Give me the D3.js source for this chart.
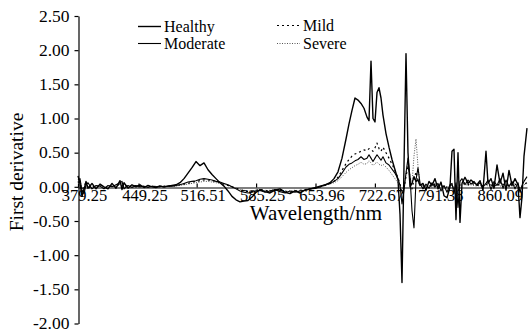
<!DOCTYPE html>
<html>
<head>
<meta charset="utf-8">
<script src="https://cdn.jsdelivr.net/npm/d3@7"></script>
<style>
  body { margin: 0; background: #fff; }
  svg { display: block; }
  svg text { font-family: "Liberation Serif", "Times New Roman", serif; fill: #000; }
</style>
</head>
<body>
<svg id="chart"></svg>
<script>
// wavelengths (nm) of the sampled points
var wavelengths = [
  379.25, 381.56, 383.88, 386.19, 388.50, 390.82, 395.44, 400.07, 404.70, 409.32,
  413.95, 418.58, 423.20, 427.83, 430.14, 432.46, 437.09, 441.71, 446.34, 450.97,
  455.59, 460.22, 464.85, 469.47, 474.10, 478.73, 483.35,
  487.98, 492.61, 497.23, 501.86, 506.49, 511.11, 515.74, 520.37, 524.99, 529.62,
  534.25, 538.87, 543.50, 548.13, 552.76, 557.38, 562.01, 566.64, 571.26, 575.89,
  580.52, 585.14, 589.77, 595.55, 601.34, 607.12, 612.91, 618.69, 624.47, 630.26,
  636.04, 641.82, 647.61, 653.39, 659.17, 664.96, 670.74,
  675.38, 680.00, 684.63, 689.25, 692.72, 696.19, 699.66, 703.13, 706.60, 710.07,
  713.54, 715.86, 718.17, 720.48, 722.79, 725.11, 727.42, 729.73, 732.04, 735.51,
  738.98, 742.45, 745.92, 749.39, 751.71, 754.02, 756.33, 758.65, 760.96, 763.27,
  765.59, 767.90, 770.21, 772.53, 774.84,
  778.31, 781.78, 785.25, 788.72, 792.19, 795.66, 799.13, 802.60, 806.07, 809.54,
  811.86, 814.17, 816.48, 818.80, 821.11, 823.42, 826.89, 830.36, 833.83, 837.30,
  840.77, 844.24, 847.71, 851.18, 853.50, 856.97, 860.44, 863.91, 867.38, 870.85,
  874.32, 877.79, 881.26, 884.73, 888.20, 890.51, 892.82, 895.14, 898.61
];

var healthy = [
  0.16, 0.05, -0.14, -0.04, 0.08, -0.02, 0.05, -0.03, 0.04, 0.00,
  -0.03, 0.05, -0.02, 0.09, -0.04, 0.06, -0.02, 0.03, 0.00, 0.03,
  -0.01, 0.02, 0.00, -0.01, 0.01, 0.00, 0.01,
  0.02, 0.03, 0.06, 0.12, 0.20, 0.28, 0.37, 0.31, 0.35, 0.25,
  0.18, 0.12, 0.06, 0.01, -0.06, -0.14, -0.19, -0.22, -0.21, -0.20,
  -0.15, -0.08, -0.04, -0.07, -0.09, -0.05, -0.03, -0.08, -0.10, -0.06,
  -0.09, -0.05, -0.03, -0.02, 0.00, 0.03, 0.06,
  0.12, 0.22, 0.42, 0.70, 0.92, 1.12, 1.30, 1.27, 1.22, 1.15,
  1.02, 0.97, 1.84, 1.00, 0.95, 1.38, 1.45, 1.30, 1.05, 0.78,
  0.58, 0.40, 0.25, 0.10, -0.40, -1.40, 0.30, 1.95, 0.50, 0.00,
  0.05, 0.15, 0.08, 0.10, 0.02,
  0.05, -0.05, 0.08, 0.02, 0.12, -0.03, 0.07, -0.13, -0.16, 0.00,
  0.52, 0.55, -0.48, 0.50, -0.52, 0.05, 0.14, 0.05, 0.10, 0.06,
  0.03, 0.09, -0.05, 0.52, 0.05, 0.12, -0.02, 0.32, 0.05, 0.20,
  -0.05, 0.24, 0.02, 0.12, 0.03, -0.45, -0.15, 0.45, 0.86
];

var moderate = [
  0.10, 0.12, -0.06, -0.10, 0.03, 0.06, -0.03, 0.02, 0.01, -0.03,
  0.02, 0.00, 0.03, 0.06, 0.08, -0.03, 0.02, -0.01, 0.02, 0.00,
  0.01, -0.01, 0.01, 0.00, 0.01, 0.00, 0.01,
  0.01, 0.02, 0.03, 0.05, 0.07, 0.08, 0.09, 0.11, 0.12, 0.11,
  0.10, 0.08, 0.07, 0.05, 0.03, 0.00, -0.03, -0.06, -0.08, -0.09,
  -0.08, -0.06, -0.05, -0.08, -0.06, -0.04, -0.07, -0.09, -0.06, -0.08,
  -0.06, -0.05, -0.03, -0.01, 0.01, 0.03, 0.05,
  0.08, 0.12, 0.20, 0.29, 0.33, 0.35, 0.38, 0.40, 0.44, 0.40,
  0.42, 0.47, 0.42, 0.37, 0.42, 0.47, 0.43, 0.39, 0.44, 0.35,
  0.32, 0.26, 0.20, 0.12, 0.02, -0.25, -0.05, 0.20, 0.42, 0.15,
  -0.35, -0.60, 0.10, 0.28, 0.05,
  -0.03, 0.04, -0.02, 0.06, 0.00, 0.05, -0.06, 0.02, -0.08, 0.03,
  0.05, -0.10, 0.06, -0.30, 0.08, 0.12, 0.03, 0.10, 0.04, 0.08,
  0.02, 0.06, 0.00, 0.05, 0.10, -0.04, 0.08, 0.02, 0.12, -0.02,
  0.10, 0.00, 0.08, -0.03, 0.06, -0.08, 0.02, 0.08, 0.15
];

var mild = [
  0.08, 0.04, -0.08, 0.02, 0.06, -0.03, 0.02, -0.02, 0.03, 0.00,
  -0.02, 0.03, 0.00, 0.05, 0.02, 0.04, -0.01, 0.02, 0.01, 0.02,
  0.00, 0.01, 0.00, 0.01, 0.00, 0.01, 0.01,
  0.01, 0.02, 0.03, 0.04, 0.05, 0.07, 0.08, 0.09, 0.10, 0.10,
  0.09, 0.08, 0.06, 0.04, 0.02, 0.00, -0.02, -0.04, -0.06, -0.07,
  -0.07, -0.05, -0.04, -0.05, -0.07, -0.05, -0.04, -0.06, -0.08, -0.06,
  -0.05, -0.04, -0.03, -0.02, 0.00, 0.02, 0.05,
  0.08, 0.14, 0.24, 0.34, 0.40, 0.45, 0.48, 0.50, 0.52, 0.54,
  0.53, 0.56, 0.55, 0.52, 0.57, 0.64, 0.56, 0.52, 0.58, 0.50,
  0.42, 0.33, 0.24, 0.13, 0.04, -0.10, -0.02, 0.15, 0.30, 0.15,
  -0.03, 0.10, 0.22, 0.10, 0.02,
  0.02, -0.02, 0.03, 0.00, 0.04, 0.01, 0.03, -0.02, 0.00, 0.02,
  0.03, -0.03, 0.02, -0.05, 0.03, 0.04, 0.06, 0.03, 0.05, 0.04,
  0.02, 0.03, 0.01, 0.04, 0.02, 0.03, 0.00, 0.05, 0.02, 0.04,
  0.01, 0.05, 0.02, 0.04, 0.01, -0.03, 0.00, 0.04, 0.06
];

var severe = [
  0.06, 0.09, -0.03, -0.05, 0.04, 0.00, 0.03, -0.01, 0.02, -0.02,
  0.01, 0.02, -0.01, 0.04, 0.05, 0.00, 0.01, 0.00, 0.02, 0.01,
  -0.01, 0.01, 0.00, 0.00, 0.01, 0.00, 0.01,
  0.01, 0.01, 0.02, 0.03, 0.04, 0.05, 0.06, 0.07, 0.08, 0.08,
  0.07, 0.06, 0.05, 0.04, 0.02, 0.00, -0.02, -0.04, -0.05, -0.06,
  -0.06, -0.05, -0.04, -0.06, -0.05, -0.04, -0.05, -0.07, -0.06, -0.05,
  -0.06, -0.04, -0.03, -0.02, 0.00, 0.02, 0.04,
  0.06, 0.09, 0.15, 0.21, 0.25, 0.28, 0.31, 0.33, 0.36, 0.33,
  0.34, 0.38, 0.35, 0.31, 0.34, 0.36, 0.33, 0.31, 0.33, 0.29,
  0.24, 0.18, 0.12, 0.06, 0.00, -0.08, 0.02, 0.20, 0.35, 0.10,
  0.05, 0.45, 0.70, 0.30, 0.05,
  0.03, 0.00, 0.02, -0.01, 0.03, 0.00, 0.02, 0.00, -0.02, 0.01,
  0.02, 0.00, -0.02, 0.01, 0.02, 0.03, 0.04, 0.02, 0.03, 0.02,
  0.01, 0.02, 0.00, 0.03, 0.01, 0.02, 0.00, 0.03, 0.01, 0.02,
  0.00, 0.03, 0.01, 0.02, 0.00, -0.02, 0.01, 0.03, 0.05
];

// axis ticks
var xTickValues = [379.25, 449.25, 516.51, 585.25, 653.96, 722.67, 791.38, 860.09];
var yTickValues = [-2.00, -1.50, -1.00, -0.50, 0.00, 0.50, 1.00, 1.50, 2.00, 2.50];

var seriesNames = ["Healthy", "Moderate", "Mild", "Severe"];

var width = 528, height = 331;

var svg = d3.select("#chart")
    .attr("width", width)
    .attr("height", height);

var x = d3.scaleLinear()
    .domain([379.25, 898.61])
    .range([78, 527]);

var y = d3.scaleLinear()
    .domain([-2, 2.5])
    .range([323.5, 16]);

// Y axis
var yAxis = svg.append("g")
    .attr("transform", "translate(78.5,0)")
    .call(d3.axisLeft(y)
        .tickValues(yTickValues)
        .tickSizeInner(4)
        .tickSizeOuter(0)
        .tickPadding(5)
        .tickFormat(function(d) { return d.toFixed(2); }));
yAxis.attr("font-family", null);
yAxis.selectAll("text")
    .style("font-size", "17.5px")
    .attr("dy", "0.3em");
yAxis.selectAll("line, path").attr("stroke", "#000").attr("stroke-width", 1.2);

// X axis crosses at zero, ticks point up
var xAxis = svg.append("g")
    .attr("transform", "translate(0," + (Math.round(y(0)) + 0.5) + ")")
    .call(d3.axisBottom(x)
        .tickValues(xTickValues)
        .tickSizeInner(-4)
        .tickSizeOuter(0)
        .tickFormat(function(d) { return d.toFixed(2); }));
xAxis.attr("font-family", null);
xAxis.selectAll("text")
    .style("font-size", "16.5px")
    .attr("y", 13)
    .attr("dx", 6)
    .attr("dy", 0);
xAxis.selectAll("line, path").attr("stroke", "#000").attr("stroke-width", 1.2);

// lines
var styles = {
    Healthy:  { data: healthy,  width: 1.4, dash: null,    color: "#000" },
    Moderate: { data: moderate, width: 1.1, dash: null,    color: "#000" },
    Mild:     { data: mild,     width: 1.2, dash: "2,3",   color: "#000" },
    Severe:   { data: severe,   width: 1.0, dash: "1,1.5", color: "#555" }
};

var line = d3.line()
    .x(function(d, i) { return x(wavelengths[i]); })
    .y(function(d) { return y(d); });

["Severe", "Mild", "Moderate", "Healthy"].forEach(function(name) {
    var s = styles[name];
    svg.append("path")
        .datum(s.data)
        .attr("fill", "none")
        .attr("stroke", s.color)
        .attr("stroke-width", s.width)
        .attr("stroke-dasharray", s.dash)
        .attr("stroke-linejoin", "round")
        .attr("d", line);
});

// legend
var legendPos = [
    { x: 138, y: 26.5 },
    { x: 138, y: 43.5 },
    { x: 277, y: 25.5 },
    { x: 277, y: 43.5 }
];
seriesNames.forEach(function(name, i) {
    var s = styles[name], p = legendPos[i];
    svg.append("line")
        .attr("x1", p.x).attr("x2", p.x + 23)
        .attr("y1", p.y).attr("y2", p.y)
        .attr("stroke", s.color)
        .attr("stroke-width", s.width)
        .attr("stroke-dasharray", s.dash);
    svg.append("text")
        .attr("x", p.x + 26)
        .attr("y", p.y + 5.5)
        .style("font-size", "16px")
        .text(name);
});

// axis titles
svg.append("text")
    .attr("transform", "translate(23,172) rotate(-90)")
    .attr("text-anchor", "middle")
    .style("font-size", "19.5px")
    .text("First derivative");

svg.append("text")
    .attr("x", 316)
    .attr("y", 220)
    .attr("text-anchor", "middle")
    .style("font-size", "21px")
    .text("Wavelength/nm");
</script>
</body>
</html>
